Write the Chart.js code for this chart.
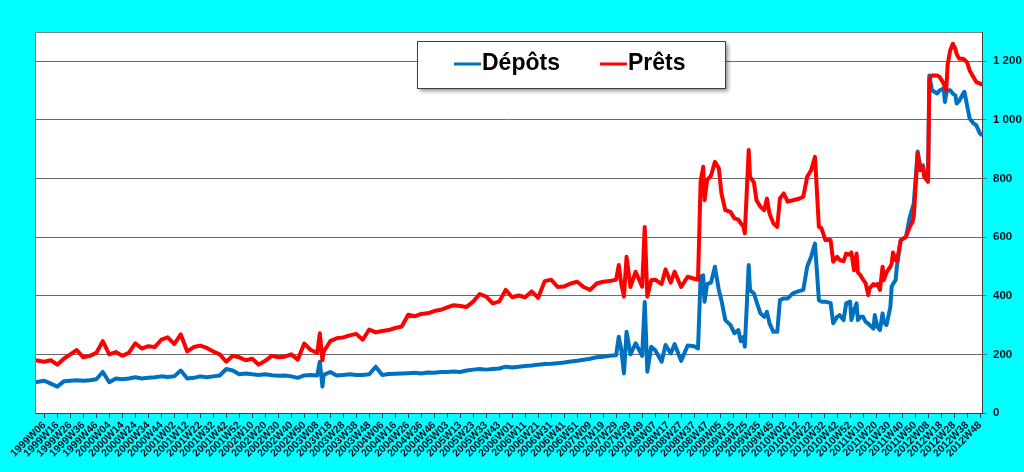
<!DOCTYPE html>
<html>
<head>
<meta charset="utf-8">
<script src="https://cdn.jsdelivr.net/npm/chart.js@4/dist/chart.umd.min.js"></script>
<style>
  html, body { margin: 0; padding: 0; background: #00ffff; }
  canvas { display: block; }
</style>
</head>
<body>
<canvas id="lineChart" width="1024" height="472"></canvas>
<script>
// week index (0 = 1999W06)
const weeks = [-7, 0, 5, 10, 15, 20, 25, 30, 35, 40, 45, 50, 55, 60, 65, 70, 75, 80, 85, 90, 95, 100,
  105, 110, 115, 120, 125, 130, 135, 140, 145, 150, 155, 160, 165, 170, 175, 180, 185, 190, 195, 200,
  205, 210, 212, 214, 215, 220, 225, 230, 235, 240, 245, 250, 255, 260, 265, 270, 275, 280, 285, 290,
  295, 300, 305, 310, 315, 320, 325, 330, 335, 340, 345, 350, 355, 360, 365, 370, 375, 380, 385, 390,
  395, 400, 405, 410, 415, 420, 425, 430, 435, 440, 442, 444, 446, 448, 451, 455, 460, 462, 464, 467,
  470, 475, 478, 482, 485, 490, 495, 500, 503, 505, 507, 508, 510, 513, 516, 519, 521, 524, 528, 531,
  534, 536, 538, 539, 542, 543, 546, 548, 551, 554, 556, 558, 561, 564, 566, 569, 572, 576, 580, 584,
  587, 590, 593, 596, 598, 601, 605, 607, 610, 612, 615, 617, 620, 621, 623, 625, 626, 628, 630, 632,
  634, 635, 638, 639, 641, 643, 645, 646, 648, 651, 652, 653, 655, 656, 659, 663, 666, 668, 669, 672,
  674, 676, 677, 680, 681, 683, 687, 689, 692, 693, 694, 695, 697, 699, 701, 702, 704, 707, 708, 710,
  712, 715, 717, 720, 721];

const depots = [105, 110, 100, 90, 108, 110, 112, 110, 112, 115, 140, 105, 118, 115, 118, 122, 118, 120, 122, 125, 123, 125,
  145, 118, 120, 125, 122, 125, 128, 150, 145, 132, 135, 132, 130, 132, 129, 127, 128, 125, 120, 128,
  130, 128, 175, 90, 130, 140, 128, 130, 132, 130, 130, 132, 158, 130, 133, 134, 135, 136, 137, 135,
  138, 137, 140, 140, 142, 140, 145, 148, 150, 148, 150, 152, 158, 155, 158, 160, 162, 165, 167, 168,
  170, 172, 176, 178, 182, 185, 190, 192, 195, 197, 260, 215, 135, 277, 200, 238, 195, 379, 141, 226,
  215, 175, 232, 203, 235, 178, 230, 228, 220, 465, 470, 380, 440, 445, 499, 420, 385, 317, 300, 272,
  283, 245, 259, 226, 505, 420, 408, 380, 340, 328, 345, 306, 277, 277, 385, 391, 391, 408, 415, 420,
  499, 533, 578, 385, 380, 380, 375, 306, 328, 334, 317, 374, 380, 317, 350, 374, 317, 328, 328, 311,
  305, 300, 288, 334, 294, 283, 340, 310, 300, 362, 431, 440, 453, 499, 590, 601, 669, 700, 715, 892,
  840, 845, 820, 794, 1152, 1101, 1090, 1101, 1107, 1061, 1090, 1101, 1101, 1090, 1084, 1056, 1065, 1090, 1096, 1050,
  1005, 988, 982, 953, 950];

const prets = [180, 175, 180, 165, 185, 200, 215, 190, 195, 205, 245, 200, 208, 195, 205, 238, 220, 228, 225, 250, 258, 235,
  268, 210, 225, 230, 222, 210, 200, 175, 195, 190, 180, 185, 165, 178, 195, 190, 192, 200, 182, 237,
  215, 205, 272, 180, 210, 245, 255, 258, 265, 270, 250, 285, 275, 280, 283, 290, 295, 335, 330, 338,
  340, 348, 352, 360, 368, 365, 362, 380, 406, 397, 374, 380, 420, 395, 401, 395, 415, 393, 450, 455,
  430, 432, 442, 448, 430, 420, 442, 448, 450, 455, 505, 440, 397, 533, 430, 482, 431, 635, 397, 453,
  455, 440, 490, 445, 482, 430, 465, 458, 455, 790, 840, 726, 795, 810, 857, 835, 750, 692, 686, 664,
  660, 647, 635, 613, 897, 806, 787, 726, 704, 692, 732, 681, 647, 635, 732, 749, 721, 726, 730, 738,
  806, 828, 874, 635, 630, 590, 590, 516, 533, 522, 518, 544, 540, 548, 487, 544, 480, 470, 455, 442,
  402, 425, 440, 435, 440, 420, 499, 453, 480, 499, 510, 548, 522, 518, 590, 601, 635, 652, 670, 885,
  828, 840, 806, 789, 1140, 1152, 1152, 1146, 1124, 1110, 1101, 1186, 1237, 1260, 1243, 1225, 1209, 1209, 1205, 1197,
  1169, 1146, 1130, 1124, 1122];

// one label every 10 weeks
const tickLabels = ['1999W06', '1999W16', '1999W26', '1999W36', '1999W46',
  '2000W04', '2000W14', '2000W24', '2000W34', '2000W44',
  '2001W02', '2001W12', '2001W22', '2001W32', '2001W42', '2001W52',
  '2002W10', '2002W20', '2002W30', '2002W40', '2002W50',
  '2003W08', '2003W18', '2003W28', '2003W38', '2003W48',
  '2004W06', '2004W16', '2004W26', '2004W36', '2004W46',
  '2005W03', '2005W13', '2005W23', '2005W33', '2005W43',
  '2006W01', '2006W11', '2006W21', '2006W31', '2006W41', '2006W51',
  '2007W09', '2007W19', '2007W29', '2007W39', '2007W49',
  '2008W07', '2008W17', '2008W27', '2008W37', '2008W47',
  '2009W05', '2009W15', '2009W25', '2009W35', '2009W45',
  '2010W02', '2010W12', '2010W22', '2010W32', '2010W42', '2010W52',
  '2011W10', '2011W20', '2011W30', '2011W40', '2011W50',
  '2012W08', '2012W18', '2012W28', '2012W38', '2012W48'];

const yTicks = [0, 200, 400, 600, 800, 1000, 1200];

const FONT = "'Liberation Sans', Arial, sans-serif";

const toPoints = (vals) => vals.map((v, i) => ({x: weeks[i], y: v}));

// plot area white, grey frame
const plotBg = {
    id: 'plotBg',
    beforeDraw(chart) {
        const {ctx, chartArea: a} = chart;
        ctx.save();
        ctx.fillStyle = '#ffffff';
        ctx.fillRect(a.left, a.top, a.right - a.left, a.bottom - a.top);
        ctx.restore();
    },
    afterDraw(chart) {
        const {ctx, chartArea: a} = chart;
        ctx.save();
        ctx.strokeStyle = '#808080';
        ctx.lineWidth = 1;
        ctx.beginPath();
        ctx.moveTo(a.left + 0.5, a.bottom);
        ctx.lineTo(a.left + 0.5, a.top + 0.5);
        ctx.lineTo(a.right, a.top + 0.5);
        ctx.stroke();
        ctx.restore();
    }
};

// legend box drawn inside the plot, top centre
const boxLegend = {
    id: 'boxLegend',
    afterDraw(chart) {
        const ctx = chart.ctx;
        const x = 417, y = 41, w = 308, h = 47;
        ctx.save();
        ctx.shadowColor = 'rgba(0,0,0,0.45)';
        ctx.shadowBlur = 4;
        ctx.shadowOffsetX = 3;
        ctx.shadowOffsetY = 3;
        ctx.fillStyle = '#ffffff';
        ctx.fillRect(x, y, w, h);
        ctx.shadowColor = 'transparent';
        ctx.strokeStyle = '#404040';
        ctx.lineWidth = 1;
        ctx.strokeRect(x + 0.5, y + 0.5, w, h);

        ctx.font = 'bold 23px ' + FONT;
        ctx.textBaseline = 'middle';
        ctx.fillStyle = '#000000';
        const entries = [
            {ds: chart.data.datasets[0], lx: 454},
            {ds: chart.data.datasets[1], lx: 600}
        ];
        entries.forEach(e => {
            ctx.strokeStyle = e.ds.borderColor;
            ctx.lineWidth = 3;
            ctx.beginPath();
            ctx.moveTo(e.lx, 64);
            ctx.lineTo(e.lx + 27, 64);
            ctx.stroke();
            ctx.fillText(e.ds.label, e.lx + 28, 64);
        });
        ctx.restore();
    }
};

new Chart(document.getElementById('lineChart').getContext('2d'), {
    type: 'line',
    data: {
        datasets: [{
            label: 'Dépôts',
            data: toPoints(depots),
            borderColor: '#0070c0',
            borderWidth: 4,
            pointRadius: 0,
            borderJoinStyle: 'round',
            borderCapStyle: 'round',
            order: 2
        }, {
            label: 'Prêts',
            data: toPoints(prets),
            borderColor: '#ff0000',
            borderWidth: 4,
            pointRadius: 0,
            borderJoinStyle: 'round',
            borderCapStyle: 'round',
            order: 1
        }]
    },
    options: {
        responsive: false,
        animation: false,
        devicePixelRatio: 1,
        layout: {padding: {left: 35, top: 32, right: 0, bottom: 0}},
        plugins: {
            legend: {display: false},
            tooltip: {enabled: false}
        },
        scales: {
            x: {
                type: 'linear',
                min: -7.16,
                max: 721.5,
                afterBuildTicks: (s) => { s.ticks = tickLabels.map((_, i) => ({value: i * 10})); },
                afterFit: (s) => { s.height = 59; s.paddingLeft = 0; s.paddingRight = 0; },
                border: {color: '#404040', width: 1},
                grid: {drawOnChartArea: false, color: '#404040', tickLength: 5},
                ticks: {
                    autoSkip: false,
                    minRotation: 45,
                    maxRotation: 45,
                    padding: 1,
                    color: '#111122',
                    font: {family: FONT, size: 10.5, weight: 'bold'},
                    callback: (v) => tickLabels[Math.round(v / 10)]
                }
            },
            y: {
                position: 'right',
                min: 0,
                max: 1300,
                afterBuildTicks: (s) => { s.ticks = yTicks.map(v => ({value: v})); },
                afterFit: (s) => { s.width = 42; s.paddingTop = 0; s.paddingBottom = 0; },
                border: {color: '#404040', width: 1},
                grid: {color: '#6a6a6a', tickLength: 5},
                ticks: {
                    padding: 6,
                    color: '#111122',
                    font: {family: FONT, size: 11.5, weight: 'bold'},
                    callback: (v) => String(v).replace(/\B(?=(\d{3})+(?!\d))/g, ' ')
                }
            }
        }
    },
    plugins: [plotBg, boxLegend]
});
</script>
</body>
</html>
